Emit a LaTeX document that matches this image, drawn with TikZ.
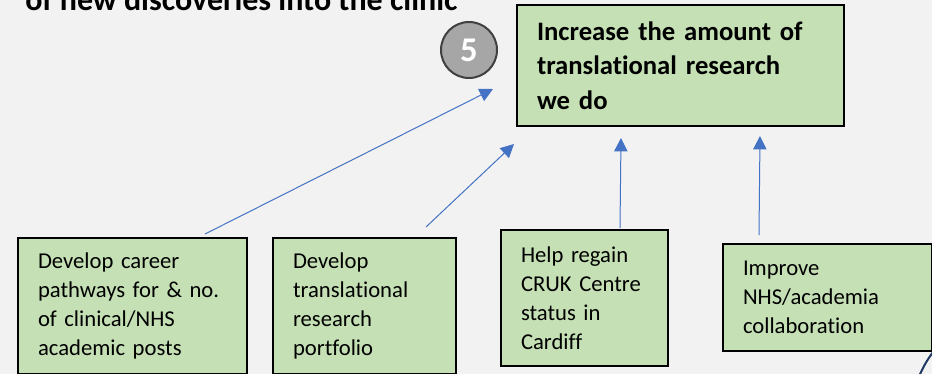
\documentclass[tikz,border=0pt]{standalone}
\usepackage{fontspec}
\setmainfont{Carlito}[Ligatures={NoCommon}]
\usetikzlibrary{arrows.meta}

\definecolor{bgGrey}{HTML}{F2F2F2}
\definecolor{boxGreen}{HTML}{C5E0B4}
\definecolor{arrowBlue}{HTML}{4472C4}
\definecolor{circGrey}{HTML}{A6A6A6}
\definecolor{circEdge}{HTML}{404040}
\definecolor{navyLine}{HTML}{203864}

\begin{document}
\begin{tikzpicture}[x=0.75pt,y=-0.75pt,
    goalbox/.style={draw=black, line width=1.5pt, fill=boxGreen, align=left,
        inner xsep=15pt, inner ysep=0pt, font=\fontsize{17}{21.75}\selectfont},
    link/.style={draw=arrowBlue, line width=0.75pt, -{Triangle[length=10pt,width=10pt]}}]
    % slide background, cut to the visible part
    \fill[bgGrey] (0,0) rectangle (932,374);
    \useasboundingbox (0,0) rectangle (932,374);
    \clip (0,0) rectangle (932,374);

    % heading (top half cut off)
    \node[anchor=base west, inner sep=0pt, font=\fontsize{24}{28}\selectfont\bfseries] (title) at (25,11) {of new discoveries into the clinic};

    % aim and its number
    \node[goalbox, text width=215.25pt, minimum width=245.25pt, minimum height=90.75pt,
        font=\fontsize{20}{26}\selectfont\bfseries] (aim) at (680.5,65.5) {Increase the amount of\\translational research\\we do};
    \node[circle, draw=circEdge, line width=1.5pt, fill=circGrey, minimum size=42pt, inner sep=0pt,
        text=white, font=\fontsize{26}{26}\selectfont\bfseries] (num) at (469,50) {5};

    % actions
    \node[goalbox, text width=141.75pt, minimum width=171.75pt, minimum height=102pt] (career) at (132.5,306) {Develop career\\pathways for \& no.\\of clinical/NHS\\academic posts};
    \node[goalbox, text width=107.25pt, minimum width=137.25pt, minimum height=102pt] (portfolio) at (364.5,306) {Develop\\translational\\research\\portfolio};
    \node[goalbox, text width=95.25pt, minimum width=125.25pt, minimum height=102pt] (cruk) at (584.5,298) {Help regain\\CRUK Centre\\status in\\Cardiff};
    \node[goalbox, text width=126.75pt, minimum width=156.75pt, minimum height=80.25pt] (collab) at (827.5,297.5) {Improve\\NHS/academia\\collaboration};

    % arrow ends
    \coordinate (numIn) at (493,89);
    \coordinate (aimInA) at (514,144);
    \coordinate (aimInB) at (621,138);
    \coordinate (aimInC) at (760,136);

    % arrows
    \draw[link] ([shift={(188,-3)}]career.north west) -- (numIn);
    \draw[link] ([shift={(154,-10)}]portfolio.north west) -- (aimInA);
    \draw[link] ([shift={(120,-1)}]cruk.north west) -- (aimInB);
    \draw[link] ([shift={(37,-8)}]collab.north west) -- (aimInC);

    % edge of a shape beyond the slide
    \draw[navyLine, line width=1.5pt] (collab.south east) .. controls (926,362) .. (919,376);
\end{tikzpicture}
\end{document}
